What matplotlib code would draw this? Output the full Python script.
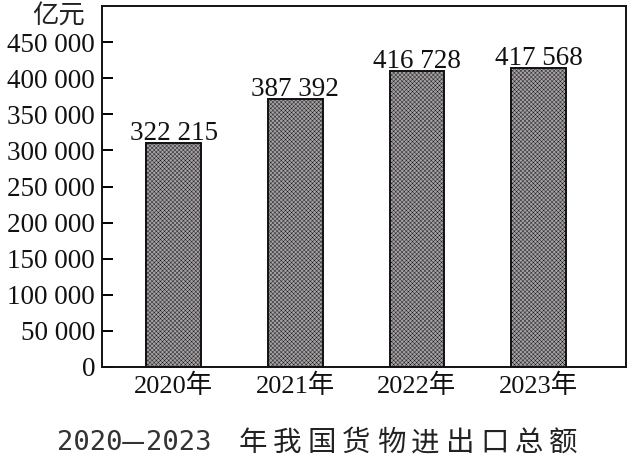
import matplotlib
matplotlib.use("Agg")
import matplotlib.pyplot as plt

# Data
years = ["2020年", "2021年", "2022年", "2023年"]
bar_heights = [309700, 370800, 410100, 413900]   # heights as drawn in the picture
value_labels = ["322 215", "387 392", "416 728", "417 568"]
yticks = [0, 50000, 100000, 150000, 200000, 250000, 300000, 350000, 400000, 450000]
ytick_labels = ["0", "50 000", "100 000", "150 000", "200 000", "250 000",
                "300 000", "350 000", "400 000", "450 000"]
unit_label = "亿元"
title_start = "2020"
title_dash = "—"
title_end = "2023"
title_cjk = "年我国货物进出口总额"

plt.rcParams['hatch.linewidth'] = 0.3
plt.rcParams['hatch.color'] = '#858185'

W, H = 636, 458
fig = plt.figure(figsize=(W / 100, H / 100), dpi=100)
ax = fig.add_axes([102 / W, 1 - 367 / H, (626 - 102) / W, (367 - 6) / H])

serif = ['Liberation Serif', 'Noto Sans CJK SC']
x = list(range(len(years)))
bars = ax.bar(x, bar_heights, width=0.45, facecolor='#a4a0a4', edgecolor='#111111',
              linewidth=1.4, hatch='xxxxxxxx')
for xi, h, lab in zip(x, bar_heights, value_labels):
    ax.annotate(lab, xy=(xi, h), xytext=(0, -2), textcoords='offset points',
                ha='center', va='bottom', fontsize=19.5, family=serif, color='#111111')

ax.set_xlim(-0.59, 3.72)
ax.set_ylim(0, 500000)
ax.set_yticks(yticks)
ax.set_yticklabels(ytick_labels, family=serif, fontsize=19.5, color='#111111')
ax.set_xticks(x)
ax.set_xticklabels(years, family=serif, fontsize=19, color='#111111')
ax.tick_params(axis='y', direction='in', length=8, width=1.4, pad=5)
ax.tick_params(axis='x', length=0, pad=5)
for s in ax.spines.values():
    s.set_linewidth(1.4)
    s.set_color('#111111')

fig.text(85 / W, 1 - 16 / H, unit_label, ha='right', va='center', fontsize=19,
         family=['Noto Sans CJK SC'], color='#222222')

# Title
ty = 1 - 443 / H
fig.text(57 / W, ty, title_start, ha='left', va='center', fontsize=19.5,
         family=['DejaVu Sans Mono'], color='#333333')
fig.text(133 / W, ty, title_dash, ha='center', va='center', fontsize=19.5,
         family=['Noto Sans CJK SC'], color='#333333')
fig.text(146 / W, ty, title_end, ha='left', va='center', fontsize=19.5,
         family=['DejaVu Sans Mono'], color='#333333')
x0 = 253
pitch = 34.5
for i, ch in enumerate(title_cjk):
    fig.text((x0 + i * pitch) / W, ty, ch, ha='center', va='center',
             fontsize=20.5, family=['Noto Sans CJK SC'], color='#222222')

fig.savefig("out.png", dpi=100)
